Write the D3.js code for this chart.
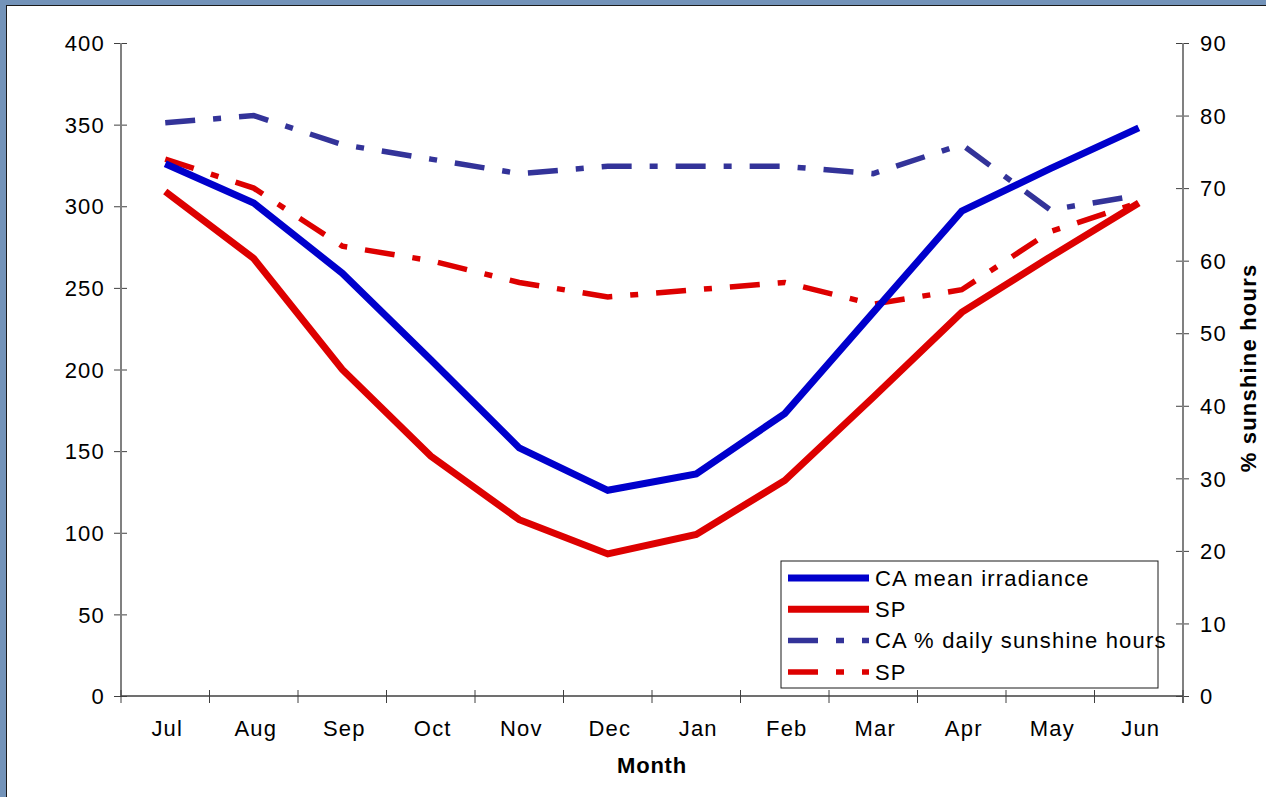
<!DOCTYPE html>
<html>
<head>
<meta charset="utf-8">
<script src="https://cdn.jsdelivr.net/npm/d3@7"></script>
<style>
  html, body { margin: 0; padding: 0; background: #ffffff; }
  svg { display: block; }
  text { font-family: "Liberation Sans", Arial, sans-serif; fill: #000; }
</style>
</head>
<body>
<svg id="chart" width="1266" height="797"></svg>
<script>
// Monthly values, July through June
const months = ["Jul","Aug","Sep","Oct","Nov","Dec","Jan","Feb","Mar","Apr","May","Jun"];
const caIrradiance = [326, 302, 259, 206, 152, 126, 136, 173, 235, 297, 323, 348];
const spIrradiance = [309, 268, 200, 147, 108, 87, 99, 132, 183, 235, 269, 302];
const caSunshine = [79, 80, 76, 74, 72, 73, 73, 73, 72, 76, 67, 69];
const spSunshine = [74, 70, 62, 60, 57, 55, 56, 57, 54, 56, 64, 68];
const leftTicks = [0, 50, 100, 150, 200, 250, 300, 350, 400];
const rightTicks = [0, 10, 20, 30, 40, 50, 60, 70, 80, 90];

const svg = d3.select("#chart");
const W = 1266, H = 797;

// Frame around the chart area
svg.append("rect").attr("x", 0).attr("y", 0).attr("width", W).attr("height", H).attr("fill", "#7393b9");
svg.append("rect").attr("x", 6).attr("y", 5).attr("width", W - 6).attr("height", H - 5).attr("fill", "#1a1a1a");
svg.append("rect").attr("x", 7).attr("y", 6).attr("width", W - 7).attr("height", H - 6).attr("fill", "#ffffff");

const plot = { left: 121, right: 1183, top: 43, bottom: 696 };

const x = d3.scaleBand().domain(months).range([plot.left, plot.right]).padding(0);
const cx = m => x(m) + x.bandwidth() / 2;
const yL = d3.scaleLinear().domain([0, 400]).range([plot.bottom, plot.top]);
const yR = d3.scaleLinear().domain([0, 90]).range([plot.bottom, plot.top]);

const axisColor = "#808080";
const fontSize = 22;
const spacing = "1.2px";

function styleText(sel) {
  sel.attr("font-size", fontSize).attr("letter-spacing", spacing)
    .style("font-family", "'Liberation Sans', Arial, sans-serif").attr("fill", "#000");
}

// Left axis
const gL = svg.append("g").attr("transform", `translate(${plot.left},0)`)
  .call(d3.axisLeft(yL).tickValues(leftTicks).tickSize(0).tickPadding(0));
gL.select(".domain").remove();
gL.selectAll(".tick text").attr("x", -16).attr("dy", "0.35em").call(styleText);
gL.selectAll(".tick").append("line").attr("x1", -7).attr("x2", 6).attr("stroke", "#404040").attr("stroke-width", 1);
svg.append("line").attr("x1", plot.left).attr("x2", plot.left).attr("y1", plot.top).attr("y2", plot.bottom)
  .attr("stroke", axisColor).attr("stroke-width", 2);

// Right axis
const gR = svg.append("g").attr("transform", `translate(${plot.right},0)`)
  .call(d3.axisRight(yR).tickValues(rightTicks).tickSize(0).tickPadding(0));
gR.select(".domain").remove();
gR.selectAll(".tick text").attr("x", 17).attr("dy", "0.35em").call(styleText);
gR.selectAll(".tick").append("line").attr("x1", -7).attr("x2", 6).attr("stroke", "#404040").attr("stroke-width", 1);
svg.append("line").attr("x1", plot.right).attr("x2", plot.right).attr("y1", plot.top).attr("y2", plot.bottom + 7)
  .attr("stroke", axisColor).attr("stroke-width", 2);

// Bottom axis with ticks between categories
svg.append("line").attr("x1", plot.left).attr("x2", plot.right).attr("y1", plot.bottom).attr("y2", plot.bottom)
  .attr("stroke", "#404040").attr("stroke-width", 1.5);
const gB = svg.append("g").attr("transform", `translate(0,${plot.bottom})`)
  .call(d3.axisBottom(x).tickSize(0).tickPadding(0));
gB.select(".domain").remove();
gB.selectAll(".tick text").attr("y", 40).attr("dy", 0).attr("dx", 2).call(styleText);
svg.append("g").selectAll("line").data(months.concat(["end"])).join("line")
  .attr("x1", (d, i) => plot.left + i * x.bandwidth())
  .attr("x2", (d, i) => plot.left + i * x.bandwidth())
  .attr("y1", plot.bottom - 6).attr("y2", plot.bottom + 7)
  .attr("stroke", "#404040").attr("stroke-width", 1);

// Axis titles
svg.append("text").attr("x", 652).attr("y", 773)
  .attr("text-anchor", "middle").attr("font-size", fontSize).attr("letter-spacing", "0.8px")
  .attr("font-weight", "bold").text("Month");
svg.append("text").attr("transform", `translate(1256,${368}) rotate(-90)`)
  .attr("text-anchor", "middle").attr("font-size", fontSize).attr("letter-spacing", "1.2px")
  .attr("font-weight", "bold").text("% sunshine hours");

// Series
const dashDot = "30,18,8,18";
const series = [
  { name: "CA mean irradiance", values: caIrradiance, scale: yL, color: "#0000cc", width: 7, dash: null },
  { name: "SP", values: spIrradiance, scale: yL, color: "#dd0000", width: 7, dash: null },
  { name: "CA % daily sunshine hours", values: caSunshine, scale: yR, color: "#333399", width: 5.5, dash: dashDot },
  { name: "SP", values: spSunshine, scale: yR, color: "#dd0000", width: 5.5, dash: dashDot }
];

series.slice().reverse().forEach(s => {
  const line = d3.line().x((d, i) => cx(months[i])).y(d => s.scale(d));
  svg.append("path").datum(s.values).attr("d", line)
    .attr("fill", "none").attr("stroke", s.color).attr("stroke-width", s.width)
    .attr("stroke-linejoin", "miter").attr("stroke-linecap", "butt")
    .attr("stroke-dasharray", s.dash);
});

// Legend
const lg = svg.append("g").attr("transform", "translate(781,561)");
lg.append("rect").attr("x", 0).attr("y", 0).attr("width", 377).attr("height", 127)
  .attr("fill", "#ffffff").attr("stroke", "#1a1a1a").attr("stroke-width", 1);
series.forEach((s, i) => {
  const yy = 17 + i * 31.3;
  lg.append("line").attr("x1", 7).attr("x2", 88).attr("y1", yy).attr("y2", yy)
    .attr("stroke", s.color).attr("stroke-width", s.width)
    .attr("stroke-dasharray", s.dash ? "30,18,8,18" : null);
  lg.append("text").attr("x", 94).attr("y", yy).attr("dy", "0.35em").call(styleText).text(s.name);
});
</script>
</body>
</html>
